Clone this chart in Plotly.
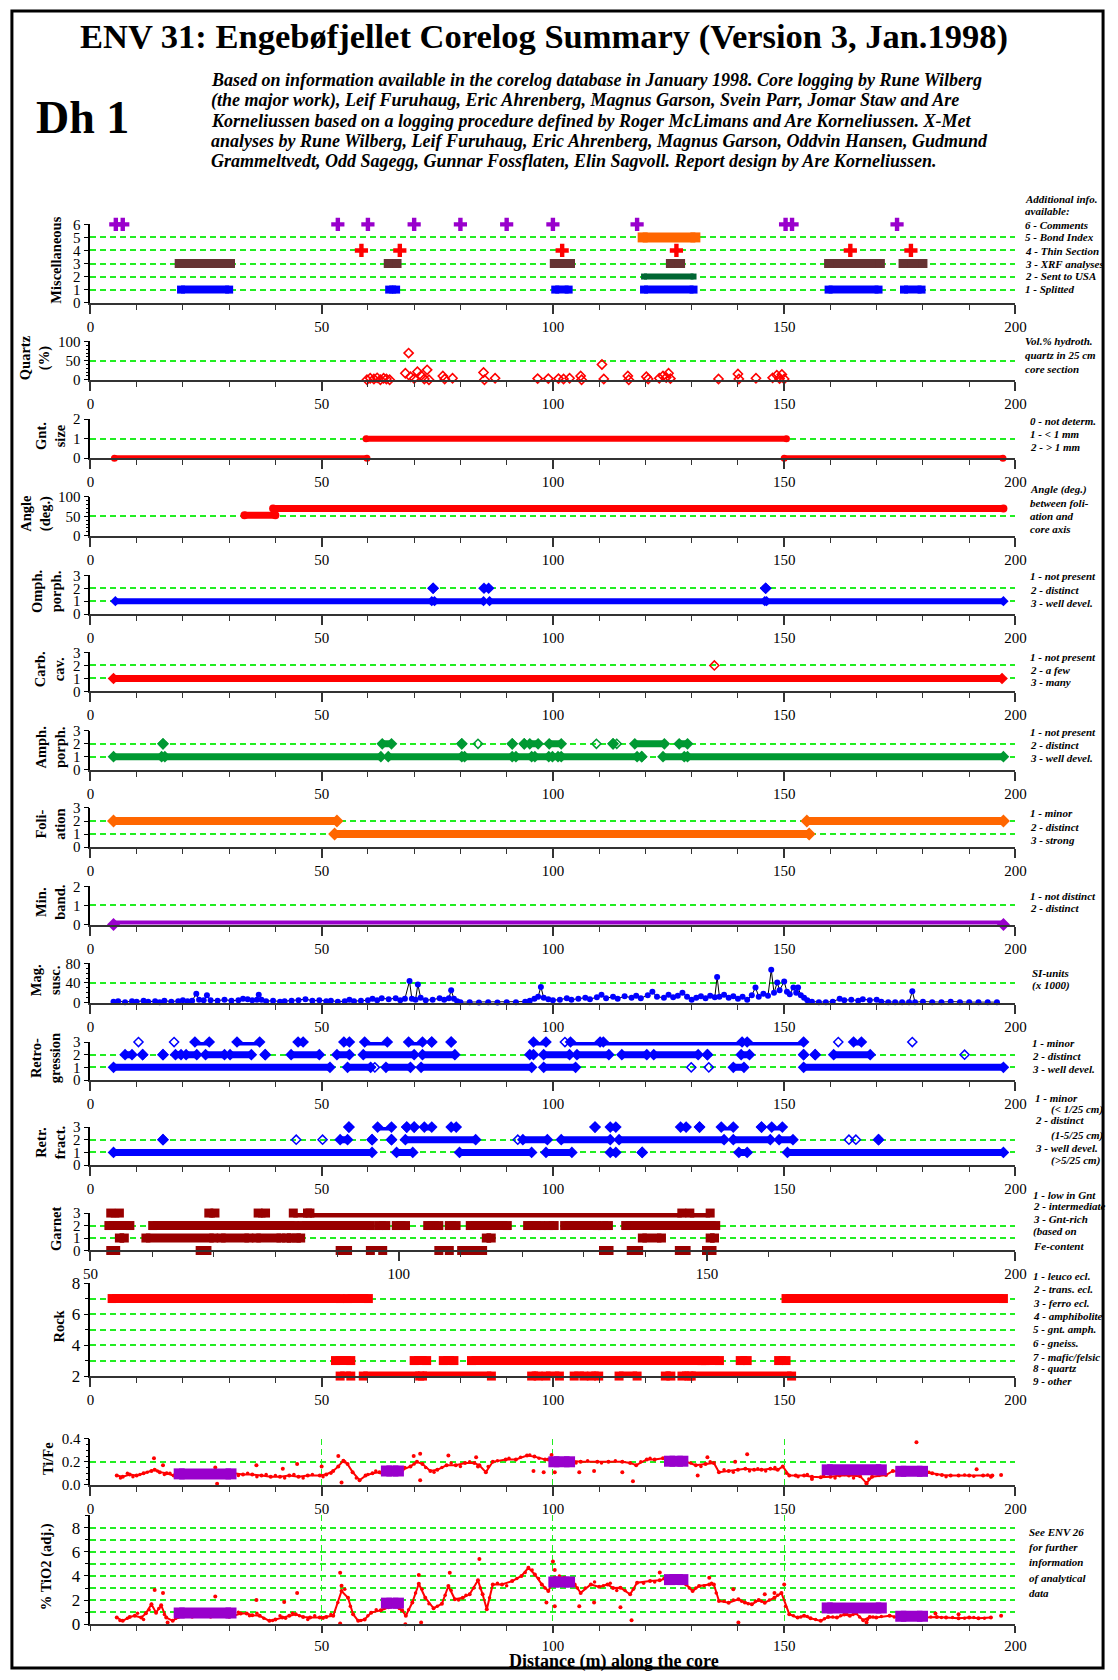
import plotly.graph_objects as go

W, H = 1118, 1680
FONT = "Liberation Serif"
GRID = "#22ee22"
GDASH = "6px,4px"
RED = "#ff0000"; BLUE = "#0000ff"; PURPLE = "#9900cc"; BROWN = "#663333"
DKGREEN = "#006633"; ORANGE = "#ff6600"; AGREEN = "#009933"; GRED = "#990000"

# ---------------------------------------------------------------- data
# Miscellaneous (distance in m)
misc_comments = [5.5, 7.0, 53.5, 60.0, 70.0, 80.0, 90.0, 100.0, 118.2, 150.3, 151.7, 174.4]
misc_bond = [(119.4, 130.8)]
misc_thin = [58.6, 66.9, 102.0, 126.7, 164.3, 177.4]
misc_xrf = [(19.2, 30.3), (64.4, 66.3), (100.3, 103.8), (125.4, 127.6), (159.6, 170.8), (175.7, 180.0)]
misc_usa = [(119.7, 130.4)]
misc_split = [(19.6, 30.0), (64.6, 66.1), (100.5, 103.4), (119.7, 130.4), (159.6, 170.4), (175.9, 179.7)]

# Quartz (vol %)
quartz_x = [59.8, 60.5, 61.3, 62.0, 62.7, 63.4, 64.0, 64.7, 68.1, 68.8, 69.2, 70.0, 70.7, 71.5, 72.2, 72.8, 73.2,
            76.2, 76.6, 78.3, 85.0, 85.2, 87.5, 96.7, 99.0, 101.2, 102.3, 103.6, 106.0, 106.2, 110.6, 111.0,
            116.2, 116.4, 120.2, 120.6, 123.0, 123.8, 124.5, 125.0, 125.4, 135.8, 140.0, 140.2, 143.9, 147.5,
            148.4, 149.0, 149.5, 150.0]
quartz_y = [0, 4, 2, 5, 0, 4, 2, 0, 17, 70, 8, 3, 21, 11, 2, 26, 0,
            10, 2, 4, 19, 0, 4, 3, 3, 3, 2, 4, 10, 0, 40, 2,
            10, 0, 8, 2, 4, 10, 6, 17, 3, 2, 15, 2, 4, 5,
            12, 3, 14, 2]

# Garnet size  (start, end, class)
gnt_size = [(5.2, 59.8, 0), (59.6, 150.5, 1), (150.0, 197.3, 0)]
# Foliation angle (start, end, deg)
angle = [(33.3, 40.0, 53), (39.5, 197.4, 70)]
# Omphacite porphyroblasts
omph1 = [(5.4, 73.8), (74.4, 85.0), (86.3, 145.8), (146.2, 197.4)]
omph2 = [(74.1, 74.1), (85.1, 86.1), (146.0, 146.0)]
# Carbonate cavities
carb1 = [(5.0, 197.1)]
carb2_open = [134.9]
# Amphibole porphyroblasts
amph1 = [(5.0, 15.4), (16.1, 62.8), (64.4, 80.3), (80.9, 91.2), (92.0, 95.4), (96.1, 99.1), (99.9, 101.1),
         (101.8, 118.2), (119.2, 119.2), (123.8, 128.4), (129.1, 197.4)]
amph2 = [(15.7, 15.7), (63.1, 65.1), (80.3, 80.3), (91.2, 91.2), (93.8, 93.8), (95.0, 96.8), (99.2, 101.8),
         (113.0, 113.0), (117.7, 124.1), (127.3, 129.1)]
amph2_open = [83.8, 109.4, 113.8]
# Foliation
foli2 = [(5.0, 53.3), (154.9, 197.4)]
foli1 = [(52.8, 155.4)]
# Mineral banding
minband0 = [(5.0, 197.4)]

# Magnetic susceptibility (distance, SI x 1000)
mag_points = [(5, 2), (6, 3), (7.5, 1), (9, 3), (10, 2), (11.5, 4), (12.5, 2), (14, 3), (15, 1), (16, 4), (17.5, 2),
              (19, 3), (20, 5), (21, 3), (22, 4), (22.9, 18), (23.5, 6), (24.5, 5), (25.2, 15), (26, 5), (27.5, 4),
              (29, 6), (30.5, 4), (32, 5), (33, 8), (34, 7), (35, 5), (36, 6), (36.4, 16), (37, 6), (38, 3),
              (39.5, 4), (41, 2), (42, 3), (43.5, 4), (45, 5), (46.5, 7), (48, 4), (49.5, 5), (51, 3), (52, 4),
              (53.5, 2), (55, 3), (56, 6), (57, 3), (58.5, 4), (60, 5), (61, 8), (62, 5), (63, 9), (64.5, 7),
              (66, 9), (67, 5), (68, 8), (69, 44), (69.5, 8), (70.3, 6), (70.8, 37), (71.4, 10), (72.5, 5), (74, 6),
              (75.5, 9), (76.5, 6), (77.5, 9), (78, 25), (78.6, 8), (79.3, 3), (80, 1), (82, 1), (84, 0.5), (86, 1),
              (88, 0.5), (90, 1), (92, 1), (94, 2), (95, 4), (96, 8), (96.8, 12), (97.4, 32), (98, 10), (99, 7),
              (100, 5), (101.5, 6), (103, 9), (104, 6), (105.5, 8), (107, 10), (108, 7), (109.5, 11), (110.5, 16),
              (111.5, 9), (113, 12), (114, 8), (115.5, 13), (117, 10), (118, 14), (119, 9), (120.5, 15), (121.5, 22),
              (122.5, 12), (124, 10), (125, 16), (126, 11), (127, 14), (128, 20), (129, 12), (130, 6), (131, 10),
              (132, 13), (133, 9), (134, 14), (135, 11), (135.5, 52), (136, 12), (137, 16), (138, 10), (139, 13),
              (140, 8), (141, 12), (142, 6), (143, 15), (143.8, 31), (144.5, 12), (145.5, 18), (146.5, 14),
              (147.2, 67), (147.8, 20), (148.5, 41), (149, 25), (150, 43), (150.6, 22), (151.2, 17), (152, 31),
              (152.6, 20), (153, 31), (153.6, 15), (154.3, 10), (155, 5), (156, 2), (157.5, 1), (159, 1), (160.5, 2),
              (162, 8), (163, 5), (164.5, 6), (166, 4), (167, 7), (168.5, 5), (170, 6), (171, 2), (172.5, 1),
              (174, 1), (175.5, 1), (177, 1), (177.7, 23), (178.3, 1), (180, 2), (182, 1), (184, 1), (186, 2),
              (188, 1), (190, 1), (192, 1), (194, 1), (196, 1)]

# Retrogression
retro3 = [(22.6, 25.7), (31.7, 36.6), (44.9, 46.0), (54.8, 56.0), (59.3, 64.2), (68.8, 71.8), (73.8, 73.8),
          (78.0, 78.0), (95.8, 98.5), (103.8, 110.2), (110.9, 140.9), (142.0, 154.2), (165.0, 166.7)]
retro3_open = [10.4, 18.1, 102.6, 161.7, 177.7]
retro2 = [(7.5, 9.0), (11.3, 11.3), (15.7, 15.7), (18.4, 19.6), (20.7, 23.0), (24.9, 29.0), (30.2, 34.8),
          (37.8, 37.8), (43.4, 49.5), (53.3, 56.0), (59.0, 70.0), (71.8, 78.8), (95.0, 95.8), (98.0, 103.6),
          (105.2, 112.1), (114.9, 120.3), (121.8, 131.4), (133.4, 133.4), (140.7, 142.5), (154.2, 154.2),
          (156.7, 156.7), (160.7, 168.6)]
retro2_open = [189.0]
retro1 = [(5.0, 51.8), (55.6, 60.6), (63.9, 69.2), (71.5, 95.4), (98.0, 104.9), (139.0, 141.3), (154.2, 197.4)]
retro1_open = [61.5, 129.9, 133.7]

# Retrograde fractures
rfr3 = [(55.9, 55.9), (62.1, 65.1), (68.4, 68.4), (70.0, 70.0), (72.2, 73.8), (78.0, 79.1), (109.1, 109.1),
        (112.4, 113.6), (127.6, 128.8), (131.7, 131.7), (136.4, 139.0), (145.1, 145.1), (147.3, 149.6)]
rfr2 = [(15.7, 15.7), (54.0, 55.6), (60.9, 60.9), (65.1, 65.1), (68.1, 83.3), (93.5, 98.8), (101.8, 112.4),
        (114.3, 137.0), (139.0, 147.0), (148.9, 151.9), (170.4, 170.4)]
rfr2_open = [44.5, 50.2, 92.4, 164.0, 165.5]
rfr1 = [(5.0, 60.9), (66.2, 69.7), (79.8, 95.4), (98.5, 104.1), (112.4, 113.6), (119.3, 119.3), (140.2, 142.0),
        (150.7, 197.4)]

# Garnet content (axis 50-200)
garnet3 = [(53.3, 54.7), (69.2, 70.2), (77.2, 78.4), (82.9, 85.2), (85.6, 145.9), (147.2, 150.5)]
garnet2 = [(53.0, 56.4), (60.1, 83.1), (84.3, 95.4), (96.8, 97.9), (99.6, 101.1), (104.7, 106.5), (108.2, 109.3),
           (111.6, 117.6), (120.9, 123.0), (124.3, 125.2), (126.9, 132.1), (133.0, 134.0), (136.8, 151.4)]
garnet1 = [(54.7, 55.5), (59.0, 70.0), (71.2, 75.7), (76.9, 80.9), (81.8, 82.6), (83.4, 84.1), (114.2, 115.0),
           (139.5, 142.6), (150.5, 151.2)]
garnet0 = [(53.3, 54.1), (67.8, 68.9), (90.5, 91.7), (95.4, 97.4), (106.5, 108.2), (110.2, 111.4), (112.7, 113.6),
           (133.2, 134.1), (137.7, 138.9), (145.5, 146.6), (149.9, 150.8)]

# Rock type
rock7 = [(4.7, 54.0), (55.6, 60.1), (150.4, 197.4)]
rock3 = [(53.0, 56.3), (70.0, 72.7), (76.3, 78.6), (82.4, 132.2), (132.9, 136.0), (140.5, 142.0), (148.8, 150.4)]
rock2 = [(54.0, 56.3), (59.0, 71.2), (71.8, 86.7), (95.4, 96.8), (98.5, 101.4), (104.6, 106.7), (108.3, 109.9),
         (114.3, 118.2), (124.3, 125.5), (127.9, 129.4), (129.9, 151.6)]

# XRF intervals (start, end, Ti/Fe, TiO2)
xrf_boxes = [(19.2, 30.4, 0.095, 0.93), (64.0, 66.6, 0.12, 1.75), (100.2, 103.6, 0.20, 3.5),
             (125.2, 128.1, 0.205, 3.7), (159.3, 171.0, 0.13, 1.35), (175.2, 179.9, 0.117, 0.66)]

# X-Met Ti/Fe profile
tife_line = [(5.7, 0.08), (7, 0.07), (8.5, 0.09), (10, 0.08), (11.5, 0.1), (13.2, 0.12), (13.9, 0.13), (15, 0.11),
             (16.5, 0.1), (18, 0.08), (19, 0.09), (21, 0.09), (23, 0.1), (25, 0.09), (27, 0.08), (29, 0.09),
             (31, 0.1), (33, 0.09), (35, 0.09), (37, 0.08), (39, 0.07), (41, 0.07), (43, 0.08), (45, 0.07),
             (47, 0.08), (49.6, 0.08), (51, 0.09), (52.5, 0.12), (53.6, 0.16), (54.7, 0.21), (55.6, 0.18),
             (56.7, 0.11), (58.2, 0.04), (59.5, 0.08), (61, 0.1), (62.5, 0.11), (64.2, 0.11), (66, 0.12),
             (67.5, 0.13), (69.2, 0.16), (70.6, 0.2), (71.8, 0.18), (73.5, 0.12), (75, 0.13), (77, 0.17),
             (79, 0.17), (81, 0.19), (83, 0.19), (84.1, 0.17), (85.5, 0.11), (87, 0.2), (89.8, 0.22), (92, 0.22),
             (94.4, 0.255), (96, 0.245), (98.3, 0.22), (99, 0.22), (101, 0.19), (104, 0.21), (106, 0.2),
             (109.6, 0.2), (112, 0.2), (115, 0.2), (116.7, 0.19), (118, 0.17), (120.3, 0.22), (122, 0.22),
             (123.8, 0.23), (126, 0.21), (128.8, 0.2), (130.9, 0.17), (133, 0.18), (134.8, 0.19), (135.9, 0.11),
             (138, 0.12), (140, 0.13), (141.6, 0.14), (143.5, 0.13), (145.1, 0.13), (147, 0.14), (148.6, 0.13),
             (149.7, 0.16), (151.1, 0.08), (152.5, 0.08), (154.3, 0.08), (156, 0.07), (157.9, 0.065), (160, 0.07),
             (162, 0.08), (164, 0.08), (166.4, 0.075), (167.8, 0.015), (169, 0.07), (172, 0.085), (173.5, 0.12),
             (176, 0.11), (178, 0.11), (180.6, 0.105), (182, 0.1), (184.1, 0.085), (186, 0.08), (187.7, 0.08),
             (190, 0.08), (193, 0.08), (195, 0.08)]
tife_scatter = [(13.75, 0.23), (15.7, 0.17), (27, 0.15), (27.4, 0.01), (35.9, 0.17), (41.6, 0.14), (44.7, 0.18),
                (50, 0.16), (53.6, 0.25), (54.3, 0.02), (69.9, 0.25), (71.3, 0.27), (71.3, 0.04), (77.4, 0.255),
                (80.1, 0.55), (83.4, 0.24), (83.8, 0.16), (95.8, 0.12), (98, 0.11), (99.7, 0.26), (100.4, 0.11),
                (105.7, 0.11), (108.9, 0.12), (115, 0.11), (117.3, 0.03), (131.3, 0.08), (133.4, 0.24),
                (139.4, 0.2), (142, 0.265), (156, 0.05), (167.8, 0.01), (178.6, 0.37), (191.6, 0.135),
                (194.7, 0.07), (196.9, 0.085)]
tife_near = [(6.5, 0.06), (8, 0.1), (9.2, 0.07), (10.7, 0.09), (12.3, 0.11), (14.5, 0.12), (16, 0.09), (17.2, 0.1),
             (20, 0.07), (22, 0.11), (24, 0.08), (26, 0.1), (28, 0.07), (30, 0.1), (32, 0.08), (34, 0.1),
             (36, 0.07), (38, 0.09), (40, 0.08), (42, 0.06), (44, 0.09), (46, 0.06), (48, 0.09), (50.3, 0.07),
             (52, 0.1), (55, 0.2), (57.5, 0.06), (60, 0.09), (61.7, 0.12), (63, 0.1), (65, 0.13), (68, 0.15),
             (70, 0.18), (72.5, 0.15), (74.3, 0.11), (76, 0.15), (78, 0.19), (80, 0.16), (82, 0.2), (86, 0.16),
             (88, 0.21), (90.5, 0.23), (93, 0.24), (95, 0.26), (97, 0.23), (100, 0.21), (102.5, 0.22),
             (105, 0.19), (107.5, 0.21), (110.5, 0.19), (113.5, 0.21), (119, 0.2), (121, 0.23), (125, 0.22),
             (127.5, 0.19), (129.8, 0.19), (132, 0.16), (134, 0.2), (137, 0.13), (139, 0.11), (142.5, 0.12),
             (144.3, 0.14), (146, 0.12), (148, 0.15), (150.5, 0.1), (153, 0.07), (155, 0.09), (158.5, 0.08),
             (161, 0.06), (163, 0.09), (165, 0.06), (168.3, 0.05), (170.5, 0.08), (174.5, 0.13), (177, 0.12),
             (181.3, 0.11), (183, 0.09), (185, 0.07), (189, 0.085), (191, 0.075), (194, 0.085)]

# X-Met TiO2 (adjusted) profile
tio2_line = [(5.7, 0.55), (7, 0.28), (8.5, 0.6), (9.6, 0.7), (11, 0.55), (12, 0.9), (13.2, 1.65), (14.2, 0.96),
             (15.3, 1.57), (16.4, 0.55), (17.8, 0.28), (19, 0.6), (21, 0.8), (23, 0.7), (25, 0.9), (27, 0.75),
             (29, 0.8), (31, 0.7), (32.5, 0.88), (33.8, 0.88), (35, 0.75), (36.6, 0.7), (38.7, 0.28), (40, 0.4),
             (41.5, 0.55), (43, 0.7), (44.4, 0.83), (46, 0.6), (47.5, 0.55), (49.6, 0.55), (51, 0.6), (52.5, 0.7),
             (54.3, 2.75), (55.7, 2.2), (56.8, 0.83), (57.9, 0.28), (59.3, 0.4), (60.7, 0.96), (62.8, 1.16),
             (64.5, 1.4), (66, 1.5), (67.4, 1.16), (68.2, 0.7), (69.6, 1.8), (71, 3.36), (72.4, 2.2), (74.2, 1.32),
             (76, 1.7), (77.4, 3.17), (78.8, 2.07), (80.5, 2.2), (82, 2.48), (83.8, 3.64), (84.8, 2.48),
             (85.7, 1.24), (87, 3.3), (89, 3.3), (91.2, 3.58), (93.2, 4.0), (94.7, 4.68), (96.1, 4.13), (97.6, 3.3),
             (99, 2.75), (100.4, 3.86), (102.5, 3.86), (104.7, 3.3), (106, 2.6), (108.2, 3.3), (110, 3.1),
             (111.8, 3.3), (113, 3.0), (114.6, 3.03), (116.7, 2.48), (118.2, 3.44), (121, 3.58), (123.1, 3.64),
             (124.9, 3.86), (127, 3.58), (128.8, 3.3), (130.2, 2.75), (131.6, 3.17), (133.8, 3.3), (134.8, 3.3),
             (135.9, 1.93), (138, 1.79), (140.1, 2.07), (141.5, 1.8), (143, 1.65), (144.5, 2.0), (145.8, 1.79),
             (147.9, 2.2), (149.4, 2.6), (151.1, 0.83), (152.9, 0.55), (154.3, 0.7), (155.7, 0.5), (157.9, 0.28),
             (159.5, 0.6), (161.4, 0.55), (163, 0.8), (164.2, 0.7), (165.5, 0.9), (167.1, 0.33), (168.5, 0.6),
             (169.9, 0.55), (172.8, 0.7), (174.9, 0.55), (177, 0.6), (180.6, 0.55), (183, 0.6), (185, 0.55),
             (187.7, 0.5), (190, 0.55), (192, 0.5), (194.7, 0.55)]
tio2_scatter = [(13.9, 2.84), (15.7, 2.6), (16.7, 0.14), (27, 2.3), (35.9, 2.0), (41.9, 1.85), (44.7, 2.6),
                (54, 4.27), (54.3, 3.2), (54, 0.05), (68.1, 0.0), (71, 4.08), (71.5, 0.14), (77.7, 4.27),
                (84.1, 5.4), (98.6, 1.8), (100, 5.2), (100.4, 4.5), (100.4, 1.5), (105.7, 1.5), (108.9, 1.8),
                (114.6, 1.4), (117, 0.33), (123.1, 4.3), (133.8, 3.86), (139, 2.9), (140.1, 0.14), (145.8, 2.48),
                (147.9, 2.6), (150, 3.3), (167.8, 0.14), (182.7, 0.88), (187.7, 0.83), (196.9, 0.7)]
tio2_near = [(6.4, 0.3), (8, 0.5), (10.2, 0.9), (11.5, 0.4), (12.7, 1.2), (14.8, 1.3), (16, 0.8), (18.5, 0.5),
             (20, 0.9), (22, 0.6), (24, 1.0), (26, 0.6), (28, 0.9), (30, 0.6), (32, 1.0), (34.4, 0.7), (36, 0.9),
             (37.5, 0.5), (39.4, 0.3), (41, 0.7), (42.2, 0.5), (43.7, 0.9), (45.2, 0.7), (47, 0.4), (48.5, 0.7),
             (50.3, 0.5), (52, 0.8), (53.5, 1.8), (55, 2.9), (56.2, 1.5), (58.5, 0.3), (60, 0.7), (61.8, 1.2),
             (63.5, 1.3), (65.3, 1.6), (66.8, 1.3), (68.8, 1.2), (70.3, 2.6), (71.7, 2.9), (73.2, 1.7), (75, 1.5),
             (76.7, 2.4), (78, 2.8), (79.6, 2.0), (81.2, 2.4), (82.9, 3.0), (84.3, 3.0), (86.3, 2.2), (88, 3.4),
             (90, 3.2), (92.2, 3.8), (94, 4.3), (95.5, 4.5), (96.9, 3.8), (98.3, 3.0), (99.7, 3.3), (101.4, 4.0),
             (103.6, 3.6), (105.3, 3.0), (107, 3.0), (109, 3.5), (110.9, 3.2), (112.4, 3.4), (113.8, 2.8),
             (115.6, 2.8), (117.4, 2.9), (119.6, 3.4), (122, 3.5), (124, 3.8), (126, 3.7), (127.9, 3.4),
             (129.5, 3.0), (130.9, 3.0), (132.7, 3.2), (134.3, 3.4), (135.3, 2.6), (137, 1.9), (139, 2.0),
             (140.8, 1.9), (142.2, 1.7), (143.8, 1.9), (145.1, 1.9), (146.8, 2.0), (148.6, 2.4), (150.3, 1.5),
             (152, 0.7), (153.6, 0.6), (155, 0.65), (156.8, 0.4), (158.7, 0.45), (160.5, 0.6), (162.2, 0.7),
             (163.6, 0.8), (164.9, 0.8), (166.3, 0.6), (168, 0.4), (169.2, 0.6), (171, 0.65), (173.8, 0.6),
             (176, 0.6), (178.5, 0.6), (181.7, 0.6), (184, 0.55), (186.4, 0.55), (189, 0.5), (191, 0.55),
             (193.3, 0.5)]

x_ticks = [0, 50, 100, 150, 200]
garnet_ticks = [50, 100, 150, 200]

# ---------------------------------------------------------------- layout helpers (page pixels)
XL, XR = 84.7, 1025.0
PANELS = [(217.7, 297.0), (336.3, 375.0), (414.7, 454.3), (493.3, 532.7), (572.7, 612.0), (650.7, 690.3),
          (730.0, 769.3), (808.0, 847.7), (887.3, 926.0), (965.0, 1005.0), (1044.7, 1083.3), (1130.7, 1169.3),
          (1217.7, 1255.7), (1288.3, 1382.7), (1446.0, 1492.7), (1523.7, 1633.7)]


def fx(p):
    return p / W


def fy(p):
    return 1 - p / H


fig = go.Figure()
layout = {}
tickfont = dict(family=FONT, size=15, color="black")


def make_x(i, rng=(0, 200), tickvals=None, vgrid=False, ticklen=9):
    return dict(domain=[fx(XL), fx(XR)], anchor=("y" if i == 1 else f"y{i}"),
                range=[rng[0] - 0.01, rng[1] + 0.01],
                showline=True, linecolor="#333333", linewidth=2, ticks="outside", ticklen=ticklen, tickwidth=1.5,
                tickcolor="#333333", tickfont=tickfont, zeroline=False, showgrid=vgrid, gridcolor=GRID,
                griddash=GDASH, gridwidth=1.3, fixedrange=True, tickmode="array",
                tickvals=tickvals if tickvals is not None else x_ticks,
                minor=dict(ticks="outside", ticklen=5, tickwidth=1.2, tickcolor="#333333", tickmode="linear",
                           tick0=rng[0], dtick=10, showgrid=False))


def make_y(i, rng, dtick, **kw):
    top, bot = PANELS[i - 1]
    d = dict(domain=[fy(bot), fy(top)], anchor=("x" if i == 1 else f"x{i}"), range=list(rng),
             showline=True, linecolor="black", linewidth=1.5, ticks="outside", ticklen=5, tickwidth=1.2,
             tickcolor="black", tickfont=tickfont, showgrid=True, gridcolor=GRID, griddash=GDASH, gridwidth=1.5,
             zeroline=False, dtick=dtick, tick0=0, fixedrange=True)
    d.update(kw)
    return d


def ref(i):
    return ("x" if i == 1 else f"x{i}"), ("y" if i == 1 else f"y{i}")


def seg_trace(i, segs, level, color, width, symbol="diamond", msize=8):
    xs, ys = [], []
    for s, e in segs:
        xs += [s, e, None]
        ys += [level, level, None]
    xr, yr = ref(i)
    fig.add_trace(go.Scatter(x=xs, y=ys, xaxis=xr, yaxis=yr, mode="lines+markers", connectgaps=False,
                             line=dict(color=color, width=width),
                             marker=dict(symbol=symbol, size=msize, color=color, line=dict(width=0)),
                             showlegend=False, hoverinfo="skip", cliponaxis=False))


def pt_trace(i, xs, ys, color, symbol, size, lw=1.5):
    xr, yr = ref(i)
    fig.add_trace(go.Scatter(x=xs, y=ys, xaxis=xr, yaxis=yr, mode="markers",
                             marker=dict(symbol=symbol, size=size, color=color, line=dict(width=lw, color=color)),
                             showlegend=False, hoverinfo="skip", cliponaxis=False))


# ---------------------------------------------------------------- axes
for i in range(1, 17):
    if i == 13:
        xa = make_x(i, rng=(50, 200), tickvals=garnet_ticks)
    elif i == 16:
        xa = make_x(i, tickvals=garnet_ticks, vgrid=True, ticklen=7)
    elif i == 15:
        xa = make_x(i, vgrid=True)
    else:
        xa = make_x(i)
    layout["xaxis" if i == 1 else f"xaxis{i}"] = xa

minor10 = dict(ticks="outside", ticklen=3, dtick=10, tickcolor="black")
bigtick = dict(family=FONT, size=17, color="black")
ys = {
    1: make_y(1, (0, 6.01), 1),
    2: make_y(2, (0, 100.5), 50, minor=minor10),
    3: make_y(3, (0, 2.01), 1),
    4: make_y(4, (0, 100.5), 50, minor=minor10),
    5: make_y(5, (0, 3.01), 1),
    6: make_y(6, (0, 3.01), 1),
    7: make_y(7, (0, 3.01), 1),
    8: make_y(8, (0, 3.01), 1),
    9: make_y(9, (0, 2.01), 1),
    10: make_y(10, (0, 80.4), 40, minor=minor10),
    11: make_y(11, (0, 3.01), 1),
    12: make_y(12, (0, 3.01), 1),
    13: make_y(13, (0, 3.01), 1),
    14: make_y(14, (2, 8.02), 2, tick0=2, tickfont=bigtick,
               minor=dict(ticks="outside", ticklen=4, dtick=1, tick0=2, showgrid=True, gridcolor=GRID,
                          griddash=GDASH, gridwidth=1.5, tickcolor="black")),
    15: make_y(15, (0, 0.401), 0.2, tickformat=".1f",
               minor=dict(ticks="outside", ticklen=3, dtick=0.05, tickcolor="black")),
    16: make_y(16, (0, 9.02), 2, tickfont=bigtick,
               minor=dict(ticks="outside", ticklen=4, dtick=1, showgrid=True, gridcolor=GRID,
                          griddash=GDASH, gridwidth=1.5, tickcolor="black")),
}
for i, ya in ys.items():
    layout["yaxis" if i == 1 else f"yaxis{i}"] = ya

# ---------------------------------------------------------------- traces
# 1 Misc
seg_trace(1, misc_split, 1, BLUE, 8, "square", 8)
seg_trace(1, misc_usa, 2, DKGREEN, 6, "square", 6)
seg_trace(1, misc_xrf, 3, BROWN, 9, "square", 9)
seg_trace(1, misc_bond, 5, ORANGE, 10, "square", 10)
pt_trace(1, misc_thin, [4] * len(misc_thin), RED, "cross", 11, 0)
pt_trace(1, misc_comments, [6] * len(misc_comments), PURPLE, "cross", 11, 0)
# 2 Quartz
pt_trace(2, quartz_x, quartz_y, RED, "diamond-open", 7, 1.6)
# 3 Gnt size
for s, e, v in gnt_size:
    seg_trace(3, [(s, e)], v, RED, 6, "circle", 7)
# 4 Angle
for s, e, v in angle:
    seg_trace(4, [(s, e)], v, RED, 7, "circle", 8)
# 5 Omph
seg_trace(5, omph1, 1, BLUE, 6, "diamond", 8)
seg_trace(5, omph2, 2, BLUE, 6, "diamond", 9)
# 6 Carb
seg_trace(6, carb1, 1, RED, 7, "diamond", 9)
pt_trace(6, carb2_open, [2], RED, "diamond-open", 7, 1.5)
# 7 Amph
seg_trace(7, amph1, 1, AGREEN, 7, "diamond", 9)
seg_trace(7, amph2, 2, AGREEN, 7, "diamond", 9)
pt_trace(7, amph2_open, [2] * len(amph2_open), AGREEN, "diamond-open", 7, 1.5)
# 8 Foli
seg_trace(8, foli2, 2, ORANGE, 8, "diamond", 10)
seg_trace(8, foli1, 1, ORANGE, 8, "diamond", 10)
# 9 Min band
seg_trace(9, minband0, 0, PURPLE, 8, "diamond", 10)
# 10 Mag susc
fig.add_trace(go.Scatter(x=[p[0] for p in mag_points], y=[p[1] for p in mag_points], xaxis="x10", yaxis="y10",
                         mode="lines+markers", line=dict(color="black", width=1),
                         marker=dict(symbol="circle", size=6, color=BLUE), showlegend=False, hoverinfo="skip",
                         cliponaxis=False))
# 11 Retrogression
seg_trace(11, retro1, 1, BLUE, 7, "diamond", 9)
seg_trace(11, retro2, 2, BLUE, 7, "diamond", 9)
seg_trace(11, retro3, 3, BLUE, 7, "diamond", 9)
pt_trace(11, retro1_open, [1] * len(retro1_open), BLUE, "diamond-open", 7, 1.5)
pt_trace(11, retro2_open, [2] * len(retro2_open), BLUE, "diamond-open", 7, 1.5)
pt_trace(11, retro3_open, [3] * len(retro3_open), BLUE, "diamond-open", 7, 1.5)
# 12 Retr fract
seg_trace(12, rfr1, 1, BLUE, 7, "diamond", 9)
seg_trace(12, rfr2, 2, BLUE, 7, "diamond", 9)
seg_trace(12, rfr3, 3, BLUE, 7, "diamond", 9)
pt_trace(12, rfr2_open, [2] * len(rfr2_open), BLUE, "diamond-open", 7, 1.5)
# 13 Garnet
for lvl, segs in ((0, garnet0), (1, garnet1), (2, garnet2), (3, garnet3)):
    seg_trace(13, segs, lvl, GRED, 9, "square", 9)
# 14 Rock
for lvl, segs in ((7, rock7), (3, rock3), (2, rock2)):
    seg_trace(14, segs, lvl, RED, 9, "square", 9)
# 15 Ti/Fe
fig.add_trace(go.Scatter(x=[p[0] for p in tife_line], y=[p[1] for p in tife_line], xaxis="x15", yaxis="y15",
                         mode="lines+markers", line=dict(color=RED, width=2), marker=dict(size=4, color=RED),
                         showlegend=False, hoverinfo="skip"))
pt_trace(15, [p[0] for p in tife_near], [p[1] for p in tife_near], RED, "circle", 3.5, 0)
pt_trace(15, [p[0] for p in tife_scatter], [p[1] for p in tife_scatter], RED, "circle", 4, 0)
for s, e, tf, ti in xrf_boxes:
    seg_trace(15, [(s, e)], tf, PURPLE, 11, "square", 11)
# 16 TiO2
fig.add_trace(go.Scatter(x=[p[0] for p in tio2_line], y=[p[1] for p in tio2_line], xaxis="x16", yaxis="y16",
                         mode="lines+markers", line=dict(color=RED, width=2), marker=dict(size=4, color=RED),
                         showlegend=False, hoverinfo="skip"))
pt_trace(16, [p[0] for p in tio2_near], [p[1] for p in tio2_near], RED, "circle", 3.5, 0)
pt_trace(16, [p[0] for p in tio2_scatter], [p[1] for p in tio2_scatter], RED, "circle", 4, 0)
for s, e, tf, ti in xrf_boxes:
    seg_trace(16, [(s, e)], ti, PURPLE, 11, "square", 11)

# ---------------------------------------------------------------- text
ann = []


def text(t, px, py, size, xanchor="left", angle=0, bold=True, italic=False, yanchor="middle"):
    s = t
    if italic:
        s = f"<i>{s}</i>"
    if bold:
        s = f"<b>{s}</b>"
    ann.append(dict(text=s, x=fx(px), y=fy(py), xref="paper", yref="paper", xanchor=xanchor,
                    yanchor=yanchor, showarrow=False, textangle=angle,
                    font=dict(family=FONT, size=size, color="black")))


text("ENV 31: Engebøfjellet Corelog Summary (Version 3, Jan.1998)", 546, 28, 34.5, xanchor="center")
text("Dh 1", 77, 110, 46, xanchor="center")
desc = ["Based on information available in the corelog database in January 1998. Core logging by Rune Wilberg",
        "(the major work), Leif Furuhaug, Eric Ahrenberg, Magnus Garson, Svein Parr, Jomar Staw and Are",
        "Korneliussen based on a logging procedure defined by Roger McLimans and Are Korneliussen. X-Met",
        "analyses by Rune Wilberg, Leif Furuhaug, Eric Ahrenberg, Magnus Garson, Oddvin Hansen, Gudmund",
        "Grammeltvedt, Odd Sagegg, Gunnar Fossflaten, Elin Sagvoll. Report design by Are Korneliussen."]
for k, line in enumerate(desc):
    text(line, 205, 72 + k * 20.5, 18, italic=True)

# y-axis titles (text, centre x px)
ytitles = [("Miscellaneous", 50), ("Quartz<br>(%)", 28), ("Gnt.<br>size", 44), ("Angle<br>(deg.)", 30),
           ("Omph.<br>porph.", 40), ("Carb.<br>cav.", 44), ("Amph.<br>porph.", 44), ("Foli-<br>ation", 44),
           ("Min.<br>band.", 44), ("Mag.<br>susc.", 40), ("Retro-<br>gression", 39), ("Retr.<br>fract.", 44),
           ("Garnet", 50), ("Rock", 53), ("Ti/Fe", 41), ("% TiO2 (adj.)", 41)]
for (t, px), (top, bot) in zip(ytitles, PANELS):
    text(t, px, (top + bot) / 2 - 3, 14.5, xanchor="center", angle=-90)

# right-hand legends (text, x px, y px)
legends = [
    ("Additional info.", 1033, 192), ("available:", 1033, 204), ("6 - Comments", 1033, 218.5),
    ("5 - Bond Index", 1033, 231), ("4 - Thin Section", 1033, 244.5), ("3 - XRF analyses", 1033, 257.5),
    ("2 - Sent to USA", 1033, 270.5), ("1 - Splitted", 1033, 283.5),
    ("Vol.% hydroth.", 1033, 336), ("quartz in 25 cm", 1033, 350), ("core section", 1033, 364),
    ("0 - not determ.", 1038, 416.5), ("1 - &lt; 1 mm", 1038, 430), ("2 - &gt; 1 mm", 1038, 443.5),
    ("Angle (deg.)", 1038, 486.5), ("between foli-", 1038, 499.5), ("ation and", 1038, 512.5),
    ("core axis", 1038, 525.5),
    ("1 - not present", 1038, 573.5), ("2 - distinct", 1038, 587.5), ("3 - well devel.", 1038, 600.5),
    ("1 - not present", 1038, 655), ("2 - a few", 1038, 668.5), ("3 - many", 1038, 681),
    ("1 - not present", 1038, 731), ("2 - distinct", 1038, 744.5), ("3 - well devel.", 1038, 757.5),
    ("1 - minor", 1038, 813.5), ("2 - distinct", 1038, 827.5), ("3 - strong", 1038, 841),
    ("1 - not distinct", 1038, 897), ("2 - distinct", 1038, 909.5),
    ("SI-units", 1040, 975), ("(x 1000)", 1040, 987.5),
    ("1 - minor", 1040, 1046), ("2 - distinct", 1040, 1058.5), ("3 - well devel.", 1040, 1072),
    ("1 - minor", 1043, 1101.5), ("(&lt; 1/25 cm)", 1059, 1113.5), ("2 - distinct", 1043, 1123.5),
    ("(1-5/25 cm)", 1059, 1139), ("3 - well devel.", 1043, 1152), ("(&gt;5/25 cm)", 1059, 1165),
    ("1 - low in Gnt", 1041, 1199.5), ("2 - intermediate", 1041, 1211), ("3 - Gnt-rich", 1041, 1223.5),
    ("(based on", 1041, 1236), ("Fe-content", 1041, 1251),
    ("1 - leuco ecl.", 1041, 1281), ("2 - trans. ecl.", 1041, 1295), ("3 - ferro ecl.", 1041, 1308.5),
    ("4 - amphibolite", 1041, 1322), ("5 - gnt. amph.", 1041, 1335), ("6 - gneiss.", 1041, 1349),
    ("7 - mafic/felsic", 1041, 1363), ("8 - quartz", 1041, 1375), ("9 - other", 1041, 1387.5),
    ("See ENV 26", 1037, 1540), ("for further", 1037, 1556), ("information", 1037, 1571),
    ("of analytical", 1037, 1587), ("data", 1037, 1602),
]
for t, px, py in legends:
    text(t, px, py, 11, italic=True)

text("Distance (m) along the core", 617, 1671, 18, xanchor="center")

layout.update(dict(
    width=W, height=H, margin=dict(l=0, r=0, t=0, b=0), paper_bgcolor="white", plot_bgcolor="white",
    showlegend=False, annotations=ann, font=dict(family=FONT, color="black"),
    shapes=[dict(type="rect", xref="paper", yref="paper", x0=fx(5), x1=fx(1114), y0=fy(1678), y1=fy(2),
                 line=dict(color="black", width=3), layer="above")],
))
fig.update_layout(**layout)
fig.write_html("out.html", config={"displayModeBar": False},
               post_script="document.body.style.margin='0';document.body.style.overflow='hidden';"
                           "document.documentElement.style.overflow='hidden';")
